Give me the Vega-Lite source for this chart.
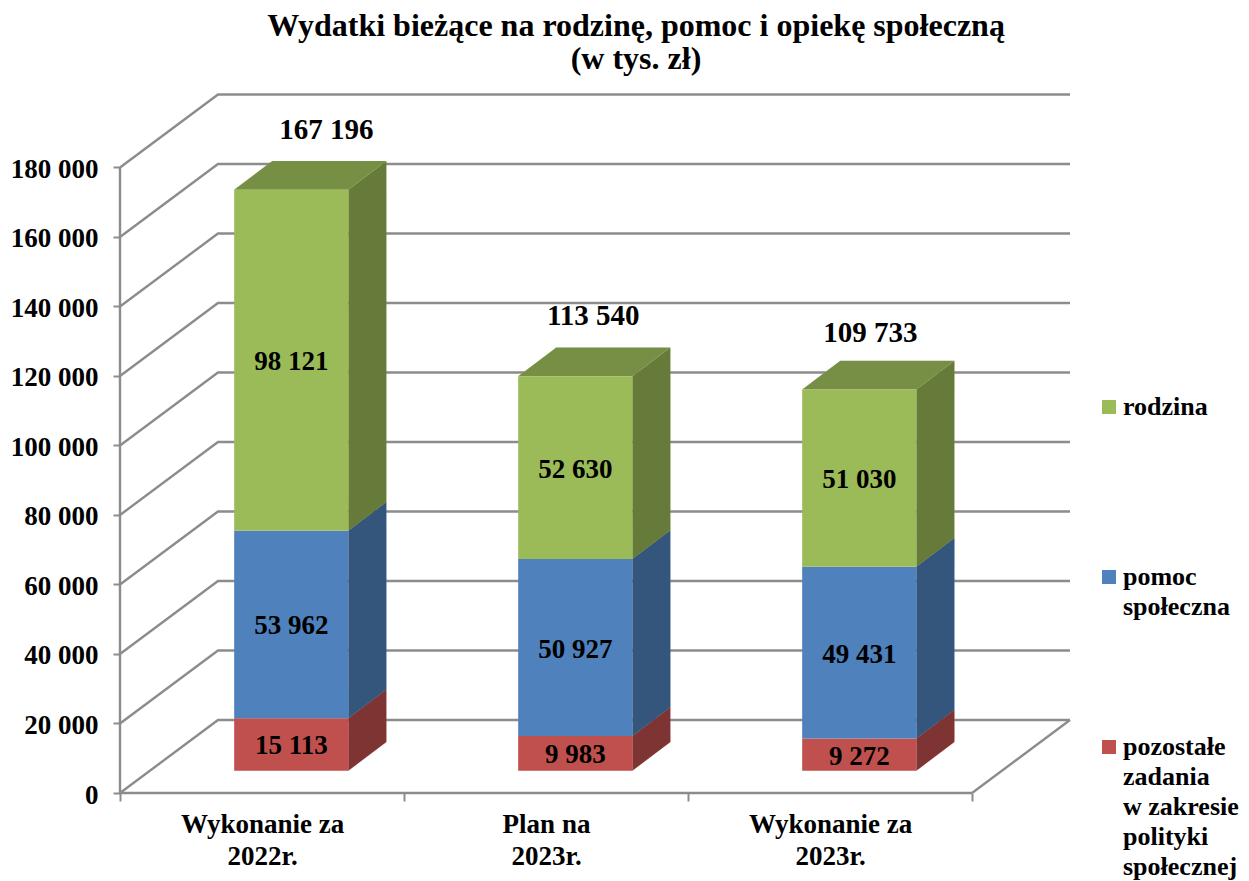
{
"$schema":"https://vega.github.io/schema/vega-lite/v6.json",
"width":950,"height":699,
"autosize":{"type":"none"},
"padding":{"left":120,"top":94,"right":179,"bottom":88},
"background":"white",
"title":{"text":["Wydatki bieżące na rodzinę, pomoc i opiekę społeczną","(w tys. zł)"],"anchor":"middle","dx":41,"offset":14,"font":"Liberation Serif","fontSize":32,"fontWeight":"bold","color":"black","lineHeight":33},
"config":{"view":{"stroke":null},"style":{"guide-label":{"lineHeight":30}}},
"datasets":{
"bars":[
{"period":"Wykonanie za 2022r.","series":"pozostałe zadania w zakresie polityki społecznej","value":15113},
{"period":"Wykonanie za 2022r.","series":"pomoc społeczna","value":53962},
{"period":"Wykonanie za 2022r.","series":"rodzina","value":98121},
{"period":"Plan na 2023r.","series":"pozostałe zadania w zakresie polityki społecznej","value":9983},
{"period":"Plan na 2023r.","series":"pomoc społeczna","value":50927},
{"period":"Plan na 2023r.","series":"rodzina","value":52630},
{"period":"Wykonanie za 2023r.","series":"pozostałe zadania w zakresie polityki społecznej","value":9272},
{"period":"Wykonanie za 2023r.","series":"pomoc społeczna","value":49431},
{"period":"Wykonanie za 2023r.","series":"rodzina","value":51030}
],
"ticks":[{"tick":0},{"tick":20000},{"tick":40000},{"tick":60000},{"tick":80000},{"tick":100000},{"tick":120000},{"tick":140000},{"tick":160000},{"tick":180000}],
"one":[{"frame":1}]
},
"layer":[
{"data":{"name":"ticks"},
 "transform":[
  {"calculate":"[0,0.345,3.345]","as":"px"},
  {"calculate":"[datum.tick,datum.tick+21007,datum.tick+21007]","as":"py"},
  {"flatten":["px","py"]}],
 "mark":{"type":"line","stroke":"#8c8c8c","strokeWidth":2.4,"clip":false},
 "encoding":{
  "x":{"field":"px","type":"quantitative","scale":{"domain":[0,3.345],"nice":false,"zero":false},
   "axis":{"values":[0,0.5,1,1.5,2,2.5,3],"grid":false,"domain":false,"title":null,"tickSize":8,"tickWidth":2,"tickColor":"#8c8c8c",
    "tickOpacity":{"condition":{"test":"datum.value % 1 !== 0","value":0},"value":1},
    "labelExpr":"datum.value==0.5?['Wykonanie za','2022r.']:datum.value==1.5?['Plan na','2023r.']:datum.value==2.5?['Wykonanie za','2023r.']:''",
    "labelFont":"Liberation Serif","labelFontSize":27,"labelFontWeight":"bold","labelColor":"black","labelLineHeight":32,"labelPadding":10,"labelOverlap":false,"labelFlush":false,"labelBound":false}},
  "y":{"field":"py","type":"quantitative","scale":{"domain":[0,201151],"nice":false,"zero":false},
   "axis":{"values":[0,20000,40000,60000,80000,100000,120000,140000,160000,180000],"grid":false,"domain":false,"title":null,"tickSize":7,"tickWidth":2,"tickColor":"#8c8c8c",
    "labelExpr":"replace(format(datum.value,','),',',' ')","labelOffset":2,
    "labelFont":"Liberation Serif","labelFontSize":27,"labelFontWeight":"bold","labelColor":"black","labelPadding":15,"labelOverlap":false,"labelFlush":false,"labelBound":false}},
  "detail":{"field":"tick"}}},
{"data":{"name":"one"},"mark":{"type":"rule","stroke":"#8c8c8c","strokeWidth":2.4},
 "encoding":{"x":{"datum":0,"type":"quantitative"},"y":{"datum":0,"type":"quantitative"},"y2":{"datum":180000}}},
{"data":{"name":"one"},"mark":{"type":"rule","stroke":"#8c8c8c","strokeWidth":2.4},
 "encoding":{"x":{"datum":0,"type":"quantitative"},"x2":{"datum":3},"y":{"datum":0,"type":"quantitative"}}},
{"data":{"name":"one"},"mark":{"type":"rule","stroke":"#8c8c8c","strokeWidth":2.4},
 "encoding":{"x":{"datum":3,"type":"quantitative"},"x2":{"datum":3.345},"y":{"datum":0,"type":"quantitative"},"y2":{"datum":21007}}},
{"data":{"name":"bars"},
 "transform":[
  {"calculate":"indexof(['pozostałe zadania w zakresie polityki społecznej','pomoc społeczna','rodzina'],datum.series)","as":"rank"},
  {"stack":"value","groupby":["period"],"sort":[{"field":"rank","order":"ascending"}],"as":["low","high"]},
  {"calculate":"indexof(['Wykonanie za 2022r.','Plan na 2023r.','Wykonanie za 2023r.'],datum.period)+0.402","as":"xl"},
  {"calculate":"datum.xl+0.402","as":"xr"},
  {"calculate":"datum.low+6417","as":"y0"},
  {"calculate":"datum.high+6417","as":"y1"}],
 "layer":[
 {"transform":[
   {"calculate":"[datum.xr,datum.xr+0.134]","as":"px"},
   {"calculate":"[datum.y0,datum.y0+8250]","as":"pl"},
   {"calculate":"[datum.y1,datum.y1+8250]","as":"ph"},
   {"flatten":["px","pl","ph"]}],
  "layer":[
  {"mark":{"type":"area","line":false},
   "encoding":{"x":{"field":"px","type":"quantitative"},"y":{"field":"pl","type":"quantitative"},"y2":{"field":"ph"},"detail":{"field":"period"},
    "color":{"field":"series","type":"nominal","scale":{"domain":["rodzina","pomoc społeczna","pozostałe zadania w zakresie polityki społecznej"],"range":["#9bbb59","#4f81bd","#c0504d"]}}}},
  {"mark":{"type":"area","fill":"black","opacity":0.34},
   "encoding":{"x":{"field":"px","type":"quantitative"},"y":{"field":"pl","type":"quantitative"},"y2":{"field":"ph"},"detail":[{"field":"period"},{"field":"series"}]}}
  ]},
 {"transform":[
   {"filter":"datum.series=='rodzina'"},
   {"calculate":"[datum.xl,datum.xl+0.134,datum.xr,datum.xr+0.134]","as":"px"},
   {"calculate":"[datum.y1,datum.y1,datum.y1,datum.y1+8250]","as":"pl"},
   {"calculate":"[datum.y1,datum.y1+8250,datum.y1+8250,datum.y1+8250]","as":"ph"},
   {"flatten":["px","pl","ph"]}],
  "layer":[
  {"mark":{"type":"area","fill":"#9bbb59"},
   "encoding":{"x":{"field":"px","type":"quantitative"},"y":{"field":"pl","type":"quantitative"},"y2":{"field":"ph"},"detail":{"field":"period"}}},
  {"mark":{"type":"area","fill":"black","opacity":0.23},
   "encoding":{"x":{"field":"px","type":"quantitative"},"y":{"field":"pl","type":"quantitative"},"y2":{"field":"ph"},"detail":{"field":"period"}}}
  ]},
 {"mark":{"type":"rect"},
  "encoding":{"x":{"field":"xl","type":"quantitative"},"x2":{"field":"xr"},"y":{"field":"y0","type":"quantitative"},"y2":{"field":"y1"},
   "color":{"field":"series","type":"nominal",
    "scale":{"domain":["rodzina","pomoc społeczna","pozostałe zadania w zakresie polityki społecznej"],"range":["#9bbb59","#4f81bd","#c0504d"]},
    "legend":{"orient":"none","legendX":976,"legendY":300,"title":null,"symbolType":"square","symbolSize":196,"symbolStrokeWidth":0,"labelOffset":1,
     "labelExpr":"datum.label=='rodzina'?['rodzina',' ']:datum.label=='pomoc społeczna'?['pomoc','społeczna']:['pozostałe','zadania','w zakresie','polityki','społecznej']",
     "labelFont":"Liberation Serif","labelFontSize":26,"labelFontWeight":"bold","labelColor":"black","labelLimit":300,"labelOverlap":false,"rowPadding":114}}}},
 {"transform":[{"calculate":"(datum.xl+datum.xr)/2","as":"xc"},{"calculate":"(datum.y0+datum.y1)/2","as":"yc"},{"calculate":"replace(format(datum.value,','),',',' ')","as":"txt"}],
  "mark":{"type":"text","font":"Liberation Serif","fontSize":27,"fontWeight":"bold","color":"black","dy":2,"baseline":"middle"},
  "encoding":{"x":{"field":"xc","type":"quantitative"},"y":{"field":"yc","type":"quantitative"},"text":{"field":"txt"}}},
 {"transform":[{"filter":"datum.series=='rodzina'&&datum.period=='Wykonanie za 2022r.'"},{"calculate":"(datum.xl+datum.xr)/2","as":"xc"},{"calculate":"replace(format(datum.high,','),',',' ')","as":"txt"}],
  "mark":{"type":"text","font":"Liberation Serif","fontSize":29,"fontWeight":"bold","color":"black","dx":35,"dy":-60,"baseline":"middle"},
  "encoding":{"x":{"field":"xc","type":"quantitative"},"y":{"field":"y1","type":"quantitative"},"text":{"field":"txt"}}},
 {"transform":[{"filter":"datum.series=='rodzina'&&datum.period=='Plan na 2023r.'"},{"calculate":"(datum.xl+datum.xr)/2","as":"xc"},{"calculate":"replace(format(datum.high,','),',',' ')","as":"txt"}],
  "mark":{"type":"text","font":"Liberation Serif","fontSize":29,"fontWeight":"bold","color":"black","dx":18,"dy":-60,"baseline":"middle"},
  "encoding":{"x":{"field":"xc","type":"quantitative"},"y":{"field":"y1","type":"quantitative"},"text":{"field":"txt"}}},
 {"transform":[{"filter":"datum.series=='rodzina'&&datum.period=='Wykonanie za 2023r.'"},{"calculate":"(datum.xl+datum.xr)/2","as":"xc"},{"calculate":"replace(format(datum.high,','),',',' ')","as":"txt"}],
  "mark":{"type":"text","font":"Liberation Serif","fontSize":29,"fontWeight":"bold","color":"black","dx":11,"dy":-56,"baseline":"middle"},
  "encoding":{"x":{"field":"xc","type":"quantitative"},"y":{"field":"y1","type":"quantitative"},"text":{"field":"txt"}}}
 ]}
]}
